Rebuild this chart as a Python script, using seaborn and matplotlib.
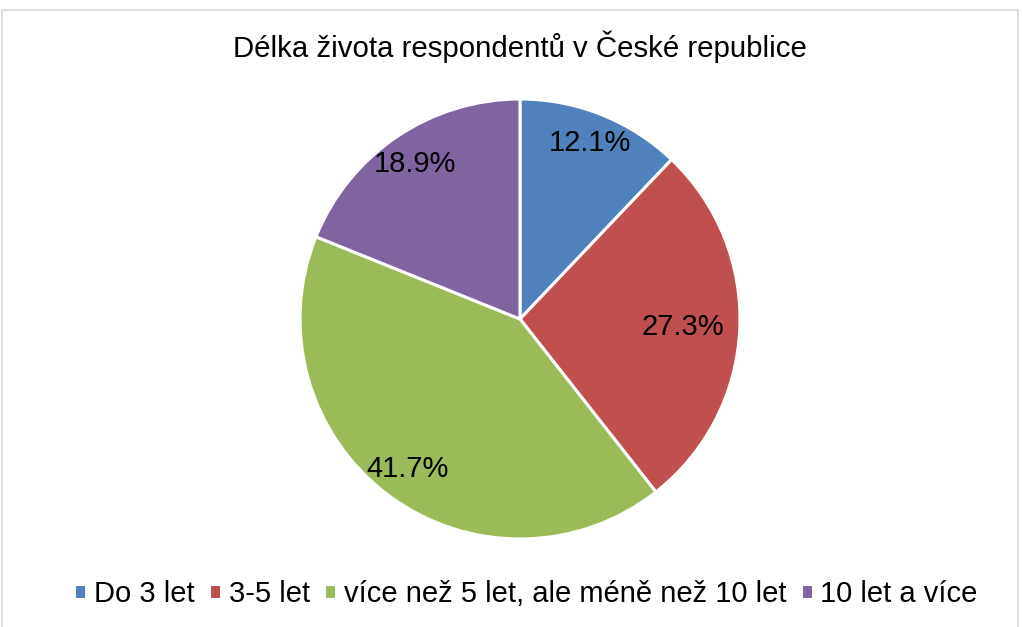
import matplotlib
matplotlib.use("Agg")
import matplotlib.pyplot as plt
import seaborn as sns
import numpy as np
from matplotlib.patches import Rectangle

# Data
categories = ["Do 3 let", "3-5 let", "více než 5 let, ale méně než 10 let", "10 let a více"]
shares = [12.1, 27.3, 41.7, 18.9]
colors = ["#4F81BD", "#C0504D", "#9BBB59", "#8064A2"]
label_dist = [0.86, 0.74, 0.85, 0.85]

sns.set_theme(style="white")
plt.rcParams["font.family"] = ["Liberation Sans", "DejaVu Sans"]
plt.rcParams["text.color"] = "black"

fig = plt.figure(figsize=(10.23, 6.27), dpi=100)
ax = fig.add_axes([300 / 1023, 88 / 627, 440 / 1023, 440 / 627])

wedges, texts, pcts = ax.pie(
    shares, colors=colors, startangle=90, counterclock=False,
    autopct="%.1f%%", pctdistance=0.85,
    wedgeprops=dict(edgecolor="white", linewidth=2.2),
    textprops=dict(fontsize=21, color="black"),
)
for w, t, d in zip(wedges, pcts, label_dist):
    ang = np.deg2rad((w.theta1 + w.theta2) / 2)
    t.set_position((d * np.cos(ang), d * np.sin(ang)))
ax.set_xlim(-1, 1)
ax.set_ylim(-1, 1)
ax.axis("off")

fig.text(520 / 1023, 1 - 47 / 627, "Délka života respondentů v České republice",
         ha="center", va="center", fontsize=21.2, color="black")

fig.legend(wedges, categories, loc="center", bbox_to_anchor=(526 / 1023, 1 - 594 / 627),
           ncol=4, frameon=False, fontsize=21, handlelength=0.42, handleheight=0.42,
           handletextpad=0.25, columnspacing=0.5)

fig.patches.append(Rectangle((2 / 1023, -0.02), 1016 / 1023, 1 - 10 / 627 + 0.02,
                             transform=fig.transFigure, fill=False,
                             edgecolor="#D9D9D9", linewidth=1.2))

fig.savefig("out.png", dpi=100)
